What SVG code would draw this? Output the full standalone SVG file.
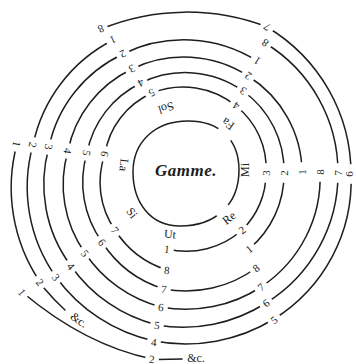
<svg xmlns="http://www.w3.org/2000/svg" width="356" height="364" viewBox="0 0 356 364">
<style>
.r{fill:none;stroke:#1e1e1e;stroke-width:1.5;stroke-linecap:round}
.n{font-family:"Liberation Serif",serif;font-size:11px;fill:#1e1e1e;text-anchor:middle;dominant-baseline:central}
.t{font-family:"Liberation Serif",serif;font-size:12px;fill:#1e1e1e;text-anchor:middle;dominant-baseline:central}
.g{font-family:"Liberation Serif",serif;font-size:17px;font-style:italic;font-weight:bold;fill:#1e1e1e;text-anchor:middle;letter-spacing:0.5px}
</style>
<defs>
<mask id="gaps" maskUnits="userSpaceOnUse" x="0" y="0" width="356" height="364">
<rect width="356" height="364" fill="#fff"/>
<g fill="#000">
<ellipse cx="167" cy="249" rx="7" ry="6"/><ellipse cx="167" cy="270" rx="7" ry="6"/><ellipse cx="164" cy="289" rx="7" ry="6"/><ellipse cx="161" cy="307" rx="7" ry="6"/><ellipse cx="157" cy="325" rx="7" ry="6"/><ellipse cx="154" cy="341" rx="7" ry="6"/><ellipse cx="152" cy="359" rx="7" ry="6"/>
<circle cx="242" cy="230" r="7"/><circle cx="249" cy="249" r="7"/><circle cx="256" cy="268" r="7"/><circle cx="261" cy="287" r="7"/><circle cx="266" cy="303" r="7"/><circle cx="274" cy="319" r="7"/>
<ellipse cx="266" cy="173" rx="6" ry="10"/><ellipse cx="284" cy="173" rx="6" ry="10"/><ellipse cx="302" cy="172" rx="6" ry="10"/><ellipse cx="320" cy="172" rx="6" ry="10"/><ellipse cx="338" cy="173" rx="6" ry="10"/><ellipse cx="351" cy="174" rx="6" ry="10"/>
<circle cx="236" cy="106" r="7"/><circle cx="243" cy="91" r="7"/><circle cx="248" cy="76" r="7"/><circle cx="257" cy="61" r="7"/><circle cx="265" cy="43" r="7"/><circle cx="267" cy="27" r="7"/>
<circle cx="152" cy="93" r="7"/><circle cx="141" cy="83" r="7"/><circle cx="132" cy="69" r="7"/><circle cx="123" cy="54" r="7"/><circle cx="113" cy="40" r="7"/><circle cx="101" cy="29" r="7"/>
<ellipse cx="105" cy="154" rx="6" ry="8"/><ellipse cx="87" cy="153" rx="6" ry="8"/><ellipse cx="68" cy="151" rx="6" ry="8"/><ellipse cx="49" cy="147" rx="6" ry="8"/><ellipse cx="33" cy="145" rx="6" ry="8"/><ellipse cx="17" cy="144" rx="6" ry="8"/>
<circle cx="115" cy="230" r="7"/><circle cx="102" cy="242" r="7"/><circle cx="85" cy="253" r="7"/><circle cx="71" cy="266" r="7"/><circle cx="56" cy="277" r="7"/><circle cx="40" cy="282" r="7"/><circle cx="22" cy="292" r="7"/>
<circle cx="226" cy="133" r="9"/><circle cx="223" cy="211" r="8"/>
</g>
</mask>
</defs>
<rect width="356" height="364" fill="#fff"/>
<g id="connectors" class="r" mask="url(#gaps)">
<path d="M167,249 A82,80 0 0 0 242,230 A82,80 0 0 0 266,173 A82,80 0 0 0 236,106 A82,80 0 0 0 152,93 A82,80 0 0 0 105,154 A87,85 0 0 0 115,230 A96,94 0 0 0 167,270"/>
<path d="M249,249 A99,98 0 0 0 284,173 A99,98 0 0 0 243,91 A99,98 0 0 0 141,83 A99,98 0 0 0 87,153 A104,103 0 0 0 102,242 A113,112 0 0 0 164,289 A117,115 0 0 0 256,268"/>
<path d="M302,172 A117,115 0 0 0 248,76 A117,115 0 0 0 132,69 A117,115 0 0 0 68,151 A122,120 0 0 0 85,253 A131,129 0 0 0 161,307 A135,132 0 0 0 261,287 A135,132 0 0 0 320,172"/>
<path d="M257,61 A135,132 0 0 0 123,54 A135,132 0 0 0 49,147 A140,138 0 0 0 71,266 A149,148 0 0 0 157,325 A153,152 0 0 0 266,303 A153,152 0 0 0 338,173 A153,152 0 0 0 265,43"/>
<path d="M113,40 A153,152 0 0 0 33,145 A157,156 0 0 0 56,277 A164,162 0 0 0 154,341 A167,164 0 0 0 274,319 A167,164 0 0 0 351,174 A175,172 0 0 0 267,27 A225,225 0 0 0 101,29"/>
<path d="M17,144 A172,170 0 0 0 40,282"/>
<path d="M44,288 Q54,300 65,310"/>
<path d="M22,292 Q85,345 152,359"/>
<path d="M158,359.5 L182,359"/>
<path id="gamme-ring" d="M188,121 C220,121 239,140 239,170 C239,205 215,226 180,226 C150,226 133,202 133,172 C133,142 155,121 188,121 Z"/>
</g>
<g id="gamme">
<text class="g" x="186" y="176">Gamme.</text>
<text class="t" x="170" y="234" transform="rotate(5 170 234)">Ut</text>
<text class="t" x="229" y="218" transform="rotate(-38 229 218)">Re</text>
<text class="t" x="245" y="170" transform="rotate(-90 245 170)">Mi</text>
<text class="t" x="228" y="124" transform="rotate(-145 228 124)">Fa</text>
<text class="t" x="166" y="108" transform="rotate(163 166 108)">Sol</text>
<text class="t" x="124" y="165" transform="rotate(97 124 165)">La</text>
<text class="t" x="132" y="213" transform="rotate(52 132 213)">Si</text>
</g>
<g id="labels" class="n">
<text x="167" y="249" transform="rotate(6 167 249)">1</text>
<text x="167" y="270" transform="rotate(6 167 270)">8</text>
<text x="164" y="289" transform="rotate(6 164 289)">7</text>
<text x="161" y="307" transform="rotate(6 161 307)">6</text>
<text x="157" y="325" transform="rotate(6 157 325)">5</text>
<text x="154" y="342" transform="rotate(6 154 342)">4</text>
<text x="152" y="359" transform="rotate(6 152 359)">2</text>
<text x="242" y="230" transform="rotate(-38 242 230)">2</text>
<text x="249" y="249" transform="rotate(-38 249 249)">1</text>
<text x="256" y="268" transform="rotate(-38 256 268)">8</text>
<text x="261" y="287" transform="rotate(-38 261 287)">7</text>
<text x="266" y="303" transform="rotate(-38 266 303)">6</text>
<text x="274" y="320" transform="rotate(-38 274 320)">5</text>
<text x="266" y="173" transform="rotate(-90 266 173)">3</text>
<text x="284" y="173" transform="rotate(-90 284 173)">2</text>
<text x="302" y="172" transform="rotate(-90 302 172)">1</text>
<text x="320" y="172" transform="rotate(-90 320 172)">8</text>
<text x="338" y="173" transform="rotate(-90 338 173)">7</text>
<text x="349" y="174" transform="rotate(-90 349 174)">6</text>
<text x="236" y="106" transform="rotate(-147 236 106)">4</text>
<text x="243" y="91" transform="rotate(-147 243 91)">3</text>
<text x="248" y="76" transform="rotate(-147 248 76)">2</text>
<text x="257" y="61" transform="rotate(-147 257 61)">1</text>
<text x="265" y="43" transform="rotate(-147 265 43)">8</text>
<text x="267" y="27" transform="rotate(-147 267 27)">7</text>
<text x="152" y="93" transform="rotate(154 152 93)">5</text>
<text x="141" y="83" transform="rotate(154 141 83)">4</text>
<text x="132" y="69" transform="rotate(154 132 69)">3</text>
<text x="123" y="54" transform="rotate(154 123 54)">2</text>
<text x="113" y="40" transform="rotate(154 113 40)">1</text>
<text x="101" y="29" transform="rotate(154 101 29)">8</text>
<text x="105" y="154" transform="rotate(101 105 154)">6</text>
<text x="87" y="153" transform="rotate(101 87 153)">5</text>
<text x="68" y="151" transform="rotate(101 68 151)">4</text>
<text x="49" y="147" transform="rotate(101 49 147)">3</text>
<text x="33" y="145" transform="rotate(101 33 145)">2</text>
<text x="17" y="144" transform="rotate(101 17 144)">1</text>
<text x="115" y="230" transform="rotate(51 115 230)">7</text>
<text x="102" y="242" transform="rotate(51 102 242)">6</text>
<text x="85" y="253" transform="rotate(51 85 253)">5</text>
<text x="71" y="266" transform="rotate(51 71 266)">4</text>
<text x="56" y="277" transform="rotate(51 56 277)">3</text>
<text x="40" y="282" transform="rotate(51 40 282)">2</text>
<text x="22" y="292" transform="rotate(51 22 292)">1</text>
<text class="t" x="79" y="320" transform="rotate(35 79 320)">&amp;c.</text>
<text class="t" x="196" y="358">&amp;c.</text>
</g>
</svg>
